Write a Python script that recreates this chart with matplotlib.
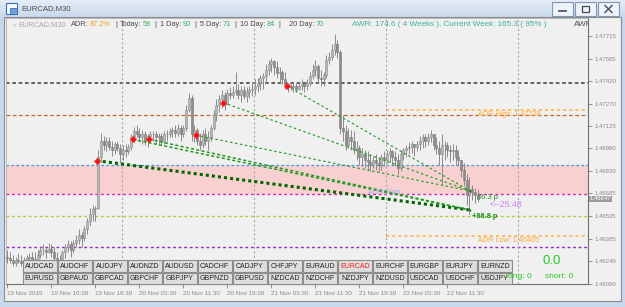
import numpy as np
import matplotlib.pyplot as plt
from matplotlib.patches import Rectangle
from matplotlib.colors import LinearSegmentedColormap

plt.rcParams['font.family'] = ['Liberation Sans', 'DejaVu Sans']

# EURCAD M30, first bar 19 Nov 03:00
first_open = 1.4627
highs = [1.4631, 1.4630, 1.4628, 1.4627, 1.4629, 1.4628, 1.4627, 1.4628, 1.4629, 1.4630,
         1.4630, 1.4631, 1.4634, 1.4635, 1.4633, 1.4636, 1.4635, 1.4633, 1.4630, 1.4628,
         1.4631, 1.4635, 1.4638, 1.4637, 1.4638, 1.4641, 1.4645, 1.4643, 1.4647, 1.4652,
         1.4659, 1.4661, 1.4660, 1.4697, 1.4708, 1.4706, 1.4705, 1.4705, 1.4703, 1.4702,
         1.4703, 1.4701, 1.4700, 1.4701, 1.4701, 1.4707, 1.4712, 1.4713, 1.4711, 1.4710,
         1.4709, 1.4707, 1.4709, 1.4709, 1.4709, 1.4708, 1.4708, 1.4709, 1.4710, 1.4711,
         1.4712, 1.4713, 1.4714, 1.4713, 1.4713, 1.4726, 1.4734, 1.4733, 1.4713, 1.4711,
         1.4708, 1.4710, 1.4711, 1.4709, 1.4713, 1.4723, 1.4730, 1.4733, 1.4736, 1.4735,
         1.4737, 1.4738, 1.4739, 1.4748, 1.4740, 1.4739, 1.4739, 1.4738, 1.4739, 1.4741,
         1.4743, 1.4744, 1.4746, 1.4747, 1.4753, 1.4756, 1.4757, 1.4756, 1.4755, 1.4751,
         1.4749, 1.4748, 1.4741, 1.4741, 1.4741, 1.4741, 1.4741, 1.4743, 1.4741, 1.4743,
         1.4748, 1.4753, 1.4756, 1.4753, 1.4749, 1.4748, 1.4759, 1.4761, 1.4766, 1.4773,
         1.4769, 1.4762, 1.4720, 1.4713, 1.4711, 1.4710, 1.4709, 1.4703, 1.4700, 1.4698,
         1.4697, 1.4696, 1.4694, 1.4693, 1.4694, 1.4692, 1.4694, 1.4696, 1.4697, 1.4698,
         1.4697, 1.4696, 1.4694, 1.4697, 1.4698, 1.4700, 1.4702, 1.4703, 1.4701, 1.4703,
         1.4706, 1.4707, 1.4707, 1.4708, 1.4710, 1.4707, 1.4705, 1.4703, 1.4707, 1.4703,
         1.4702, 1.4700, 1.4701, 1.4700, 1.4697, 1.4690, 1.4688, 1.4681, 1.4679, 1.4674,
         1.4672, 1.4671]
lows = [1.4623, 1.4623, 1.4621, 1.4621, 1.4623, 1.4621, 1.4619, 1.4621, 1.4623, 1.4623,
        1.4622, 1.4623, 1.4626, 1.4628, 1.4626, 1.4629, 1.4627, 1.4623, 1.4621, 1.4619,
        1.4623, 1.4626, 1.4630, 1.4627, 1.4629, 1.4633, 1.4635, 1.4633, 1.4637, 1.4642,
        1.4647, 1.4650, 1.4650, 1.4658, 1.4689, 1.4697, 1.4696, 1.4697, 1.4693, 1.4694,
        1.4696, 1.4688, 1.4690, 1.4692, 1.4694, 1.4697, 1.4702, 1.4705, 1.4702, 1.4701,
        1.4700, 1.4699, 1.4702, 1.4703, 1.4701, 1.4700, 1.4701, 1.4701, 1.4703, 1.4705,
        1.4705, 1.4705, 1.4706, 1.4703, 1.4705, 1.4709, 1.4722, 1.4703, 1.4702, 1.4700,
        1.4697, 1.4698, 1.4700, 1.4697, 1.4703, 1.4710, 1.4716, 1.4722, 1.4724, 1.4723,
        1.4727, 1.4730, 1.4731, 1.4733, 1.4730, 1.4728, 1.4730, 1.4728, 1.4731, 1.4732,
        1.4733, 1.4735, 1.4736, 1.4737, 1.4741, 1.4746, 1.4748, 1.4746, 1.4744, 1.4741,
        1.4740, 1.4737, 1.4735, 1.4736, 1.4735, 1.4735, 1.4736, 1.4736, 1.4735, 1.4736,
        1.4739, 1.4743, 1.4745, 1.4741, 1.4739, 1.4739, 1.4744, 1.4753, 1.4756, 1.4759,
        1.4757, 1.4707, 1.4703, 1.4697, 1.4698, 1.4697, 1.4694, 1.4690, 1.4687, 1.4686,
        1.4685, 1.4684, 1.4683, 1.4685, 1.4684, 1.4683, 1.4684, 1.4686, 1.4688, 1.4689,
        1.4687, 1.4686, 1.4681, 1.4683, 1.4690, 1.4692, 1.4694, 1.4695, 1.4693, 1.4696,
        1.4697, 1.4698, 1.4699, 1.4700, 1.4702, 1.4697, 1.4694, 1.4687, 1.4674, 1.4690,
        1.4692, 1.4689, 1.4690, 1.4687, 1.4686, 1.4679, 1.4673, 1.4661, 1.4655, 1.4664,
        1.4662, 1.4663]
closes = [1.4626, 1.4625, 1.4623, 1.4625, 1.4624, 1.4623, 1.4623, 1.4626, 1.4627, 1.4625,
          1.4625, 1.4628, 1.4631, 1.4631, 1.4630, 1.4632, 1.4630, 1.4626, 1.4623, 1.4625,
          1.4630, 1.4633, 1.4635, 1.4631, 1.4636, 1.4638, 1.4641, 1.4639, 1.4645, 1.4650,
          1.4655, 1.4658, 1.4659, 1.4692, 1.4703, 1.4700, 1.4703, 1.4699, 1.4697, 1.4701,
          1.4698, 1.4694, 1.4697, 1.4696, 1.4699, 1.4705, 1.4709, 1.4707, 1.4705, 1.4707,
          1.4703, 1.4706, 1.4707, 1.4707, 1.4705, 1.4706, 1.4703, 1.4707, 1.4707, 1.4709,
          1.4710, 1.4708, 1.4711, 1.4707, 1.4711, 1.4723, 1.4731, 1.4707, 1.4710, 1.4703,
          1.4700, 1.4707, 1.4703, 1.4705, 1.4711, 1.4720, 1.4726, 1.4730, 1.4733, 1.4727,
          1.4734, 1.4733, 1.4735, 1.4736, 1.4733, 1.4736, 1.4732, 1.4735, 1.4736, 1.4737,
          1.4739, 1.4741, 1.4744, 1.4745, 1.4749, 1.4753, 1.4755, 1.4751, 1.4747, 1.4748,
          1.4743, 1.4740, 1.4739, 1.4738, 1.4739, 1.4737, 1.4739, 1.4740, 1.4739, 1.4741,
          1.4745, 1.4749, 1.4752, 1.4744, 1.4743, 1.4746, 1.4756, 1.4758, 1.4762, 1.4766,
          1.4761, 1.4711, 1.4709, 1.4700, 1.4705, 1.4703, 1.4697, 1.4698, 1.4692, 1.4694,
          1.4690, 1.4689, 1.4687, 1.4690, 1.4688, 1.4687, 1.4692, 1.4690, 1.4694, 1.4696,
          1.4692, 1.4690, 1.4685, 1.4694, 1.4697, 1.4698, 1.4699, 1.4701, 1.4699, 1.4701,
          1.4703, 1.4705, 1.4703, 1.4705, 1.4707, 1.4700, 1.4698, 1.4694, 1.4700, 1.4700,
          1.4697, 1.4696, 1.4697, 1.4692, 1.4690, 1.4684, 1.4677, 1.4667, 1.4671, 1.4669,
          1.4667, 1.4665]

day_start_bars = [42, 90, 138, 186]
time_label_bars = [0, 16, 32, 48, 64, 80, 96, 112, 128, 144, 160]
time_labels = ['19 Nov 2019', '19 Nov 10:30', '19 Nov 18:30', '20 Nov 03:30', '20 Nov 11:30',
               '20 Nov 19:30', '21 Nov 03:30', '21 Nov 11:30', '21 Nov 19:30', '22 Nov 03:30',
               '22 Nov 11:30']
price_ticks = [1.47715, 1.47565, 1.47420, 1.47270, 1.47125, 1.46980, 1.46830, 1.46685,
               1.46535, 1.46385, 1.46240, 1.46090]
last_price = 1.46647

level_gray = 1.47407
level_brown = 1.47198
adr_high = 1.47228
adr_low = 1.46405
zone_top = 1.46868
zone_bottom = 1.46680
level_lime = 1.46536
level_purple = 1.46333

marker_bars = [32.5, 45.6, 51.6, 68.5, 78.5, 101.6]
marker_prices = [1.46898, 1.47038, 1.47038, 1.47065, 1.47278, 1.47389]
end_bar = 168.2
end_prices = [1.46575, 1.46575, 1.46575, 1.46700, 1.46700, 1.46700]

pairs_row1 = ['AUDCAD', 'AUDCHF', 'AUDJPY', 'AUDNZD', 'AUDUSD', 'CADCHF', 'CADJPY',
              'CHFJPY', 'EURAUD', 'EURCAD', 'EURCHF', 'EURGBP', 'EURJPY', 'EURNZD']
pairs_row2 = ['EURUSD', 'GBPAUD', 'GBPCAD', 'GBPCHF', 'GBPJPY', 'GBPNZD', 'GBPUSD',
              'NZDCAD', 'NZDCHF', 'NZDJPY', 'NZDUSD', 'USDCAD', 'USDCHF', 'USDJPY']

W, H = 625, 307
L, R, T, B = 6, 588, 18, 284
step = 2.75

fig = plt.figure(figsize=(W / 100, H / 100), dpi=100)
fig.patch.set_facecolor('#c8d8ec')

# window frame
bg = fig.add_axes([0, 0, 1, 1])
grad = np.linspace(0, 1, 32).reshape(-1, 1)
bg.imshow(grad, extent=(0, W, 17, 0), aspect='auto',
          cmap=LinearSegmentedColormap.from_list('tb', ['#e4edf8', '#c9d9ed']))
bg.add_patch(Rectangle((4, 17), 617, 284, fc='#f0f0f0', ec='#8c8c8c', lw=0.8))
bg.set_xlim(0, W)
bg.set_ylim(H, 0)
bg.axis('off')

# chart
ax = fig.add_axes([L / W, 1 - B / H, (R - L) / W, (B - T) / H])
ax.set_facecolor('#f0f0f0')
ax.set_xlim(-0.5, (R - L) / step - 0.5)
ax.set_ylim(1.460906, 1.478329)
for s in ['top', 'left']:
    ax.spines[s].set_color('#b0b0b0')
    ax.spines[s].set_linewidth(0.6)
for s in ['right', 'bottom']:
    ax.spines[s].set_color('#707070')
    ax.spines[s].set_linewidth(0.8)

ax.yaxis.tick_right()
ax.set_yticks(price_ticks)
ax.set_yticklabels([f'{p:.5f}' for p in price_ticks])
ax.tick_params(axis='y', length=3, width=0.6, color='#808080', labelsize=4.3,
               labelcolor='#8a8a8a', pad=1.5)
ax.set_xticks(time_label_bars)
ax.set_xticklabels(time_labels)
ax.tick_params(axis='x', length=3, width=0.6, color='#808080', labelsize=4.5,
               labelcolor='#8a8a8a', pad=2)
plt.setp(ax.get_xticklabels(), ha='left')

xmax = ax.get_xlim()[1]
ax.axhspan(zone_bottom, zone_top, color='#f8d0d0', lw=0, zorder=0)
ax.axhline(zone_top, color='#3399ee', ls=(0, (2, 2)), lw=0.9, zorder=1)
ax.axhline(zone_bottom, color='#dd22aa', ls=(0, (2, 2)), lw=1.0, zorder=1)
ax.axhline(level_gray, color='#555555', ls=(0, (2, 1.5)), lw=1.3, zorder=1)
ax.axhline(level_brown, color='#c8662a', ls=(0, (3, 2)), lw=0.9, zorder=1)
ax.axhline(level_lime, color='#a8d030', ls=(0, (2, 2)), lw=1.0, zorder=1)
ax.axhline(level_purple, color='#9922cc', ls=(0, (2, 2)), lw=1.0, zorder=1)
ax.hlines([adr_high, adr_low], day_start_bars[2] - 0.5, xmax, color='#ffb040',
          ls=(0, (2, 2)), lw=1.1, zorder=1)
for b in day_start_bars:
    ax.axvline(b - 0.5, color='#a8a8a8', ls=(0, (2, 2)), lw=0.8, zorder=1)

# candles
o = np.array([first_open] + closes[:-1])
c = np.array(closes)
h = np.maximum.reduce([np.array(highs), o, c])
lo = np.minimum.reduce([np.array(lows), o, c])
x = np.arange(len(c))
ax.vlines(x, lo, h, color='#8a8a8a', lw=0.7, zorder=3)
up = c >= o
body = np.maximum(np.abs(c - o), 0.00002)
ax.bar(x[up], body[up], bottom=np.minimum(o, c)[up], width=0.75, color='#b8b8b8',
       edgecolor='#8a8a8a', lw=0.4, zorder=3)
ax.bar(x[~up], body[~up], bottom=np.minimum(o, c)[~up], width=0.75, color='#8c8c8c',
       edgecolor='#7a7a7a', lw=0.4, zorder=3)

# trend lines from the markers
styles = [('#006600', 2.2, (0, (1, 1))), ('#229922', 1.1, (0, (2, 1.5))),
          ('#229922', 1.1, (0, (2, 1.5))), ('#33a033', 0.9, (0, (2, 2))),
          ('#33a033', 0.9, (0, (2, 2))), ('#33a033', 0.9, (0, (2, 2)))]
for mb, mp, ep, (col, lw, ls) in zip(marker_bars, marker_prices, end_prices, styles):
    ax.plot([mb, end_bar], [mp, ep], color=col, lw=lw, ls=ls, zorder=4)
ends = sorted(set(end_prices))
ax.vlines([end_bar] * len(ends), [e - 0.00005 for e in ends], [e + 0.00007 for e in ends],
          color='#006600', lw=1.0, zorder=4)
ax.plot(marker_bars, marker_prices, '+', color='#ff1010', ms=4, mew=1.8, zorder=5)

ax.text(1.003, last_price, f'{last_price:.5f}', transform=ax.get_yaxis_transform(),
        fontsize=4.3, color='white', va='center', ha='left', clip_on=False,
        bbox=dict(fc='#9c9c9c', ec='none', pad=0.6))
ax.text((574 - L) / (R - L), (B - 25) / (B - T), 'AWR', transform=ax.transAxes,
        fontsize=5.9, color='#505050', va='center', clip_on=True)

# overlay: window chrome, info text, buttons
ov = fig.add_axes([0, 0, 1, 1], zorder=5)
ov.set_xlim(0, W)
ov.set_ylim(H, 0)
ov.axis('off')

ov.add_patch(Rectangle((6, 3), 11, 11, fc='#f6f9fd', ec='#3b6fb6', lw=0.8))
ov.add_patch(Rectangle((10, 8), 7, 6, fc='#6f9fd8', ec='#3b6fb6', lw=0.6))
ov.text(21, 9, 'EURCAD,M30', fontsize=5.6, color='#4d4d4d', va='center')
for bx in [552, 575, 598]:
    ov.add_patch(Rectangle((bx, 2), 21, 14, fc='#eef3f9', ec='#8495ad', lw=0.8))
ov.plot([559, 566], [11, 11], color='#404a5a', lw=1.2)
ov.add_patch(Rectangle((582, 6), 7, 6, fc='none', ec='#404a5a', lw=0.9))
ov.plot([605, 612], [5.5, 12.5], color='#404a5a', lw=1.0)
ov.plot([605, 612], [12.5, 5.5], color='#404a5a', lw=1.0)

dark, green = '#4a4a4a', '#3cb060'
fs = 5.3
info = [(11, '\u25bc', '#cccccc', 3.5), (18, 'EURCAD,M30', '#a8a8a8', fs),
        (70.7, 'ADR:', dark, fs), (87, '87.2%', '#f0a020', fs),
        (115, '|', dark, fs), (120, 'Today:', dark, fs), (140.7, '58', green, fs),
        (154, '|', dark, fs), (160, '1 Day:', dark, fs), (180, '90', green, fs),
        (194, '|', dark, fs), (200, '5 Day:', dark, fs), (219, '71', green, fs),
        (234, '|', dark, fs), (240, '10 Day:', dark, fs), (263, '84', green, fs),
        (278, '|', dark, fs), (289, '20 Day:', dark, fs), (314, '70', green, fs),
        (351.7, 'AWR: 174.6 ( 4 Weeks ), Current Week: 165.3 ( 95% )', '#40b0a0', 5.9)]
renderer = fig.canvas.get_renderer()
cur = 0
for px, s, col, size in info:
    t = ov.text(max(px, cur + 1.2), 25, s, fontsize=size, color=col, va='center')
    cur = t.get_window_extent(renderer).x1

ov.text(477.7, 114.3, 'ADR High: 1.47228', fontsize=5.2, color='#ffaa33', va='center')
ov.text(477.7, 241, 'ADR Low: 1.46405', fontsize=5.2, color='#ffaa33', va='center')
ov.text(368, 192.7, 'ADR Start', fontsize=5.1, color='#8fa8f0', va='center', alpha=0.8)
ov.text(477, 197.7, '36.3 p', fontsize=5.4, color='#2a8a2a', va='center')
ov.text(490, 204.5, '<--25:48', fontsize=6.3, color='#cc88ee', va='center')
ov.text(472, 216.7, '+88.8 p', fontsize=5.3, color='#138a13', va='center', fontweight='bold')

for names, y0 in [(pairs_row1, 260), (pairs_row2, 272.5)]:
    for k, name in enumerate(names):
        bx = 22.7 + 35 * k
        ov.add_patch(Rectangle((bx, y0), 34, 11.5, fc='#dedede', ec='#8c8c8c', lw=0.8))
        ov.text(bx + 17, y0 + 6, name, fontsize=5, ha='center', va='center',
                color='#ee2222' if name == 'EURCAD' else '#202020')

ov.text(551.5, 261, '0.0', fontsize=9.5, color='#22cc22', ha='center', va='center')
ov.text(506.5, 277, 'long: 0', fontsize=6.1, color='#22cc22', va='center')
ov.text(545, 277, 'short: 0', fontsize=6.1, color='#22cc22', va='center')

fig.savefig('out.png', dpi=100, facecolor=fig.get_facecolor())
